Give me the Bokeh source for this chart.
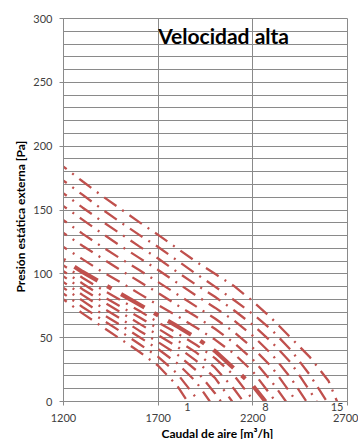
from bokeh.plotting import figure
from bokeh.models import (Label, FixedTicker, Range1d, LinearAxis, Title,
                          CustomJSTickFormatter)
from bokeh.embed import file_html
from bokeh.resources import INLINE

# ---------------- data ----------------
speeds = [1, 2, 3, 4, 5, 6, 7, 8, 9, 10, 11, 12, 13, 14, 15]
labelled_speeds = [1, 8, 15]
thick_speed = 8

flow_steps = [1200, 1300, 1400, 1500, 1600, 1700, 1800, 1900, 2000,
              2100, 2200, 2300, 2400, 2500, 2600]
zero_flow = [1855, 1914, 1973, 2032, 2091, 2150, 2208, 2267,
             2321, 2375, 2429, 2483, 2537, 2591, 2645]

p_speed1 = [80, 69, 59, 49, 39, 28, 12.5, 0]
p_speed2 = [84.5, 74, 64.5, 55, 45, 35, 22, 3, 0]
p_speed3 = [89, 79, 69, 60, 50.5, 41, 30, 15.5, 0]
p_speed4 = [93.5, 83.5, 74, 65, 55.5, 46.5, 37, 24.5, 6.5, 0]
p_speed5 = [98, 88, 79, 70, 61, 52, 43, 32, 18.5, 0]
p_speed6 = [102, 92.5, 83, 74.5, 66, 57, 48, 38.5, 26.5, 10, 0]
p_speed7 = [106.5, 97, 88, 79.5, 71, 62, 53.5, 44.5, 34, 20.5, 1.5, 0]
p_speed8 = [111, 101.5, 93, 84.5, 76, 67.5, 59, 50, 39.5, 26, 12.5, 0]
p_speed9 = [121, 111.5, 102, 93.5, 84.5, 75.5, 67, 58, 48.5, 37.5, 23.5, 4, 0]
p_speed10 = [132, 122, 112.5, 103, 94, 85, 75.5, 66.5, 57, 46, 33, 15.5, 0]
p_speed11 = [142, 131.5, 121.5, 112, 103, 93.5, 84, 74.5, 65, 54.5, 42, 27, 6.5, 0]
p_speed12 = [153, 142.5, 132, 122, 112.5, 103, 93, 83, 73.5, 63.5, 51.5, 37, 18.5, 0]
p_speed13 = [163, 152, 141.5, 131.5, 121.5, 112, 101.5, 91.5, 82, 71.5, 60, 46.5, 30.5, 8.5, 0]
p_speed14 = [173, 162, 151, 140.5, 130.5, 121, 110.5, 100, 90, 79.5, 68.5, 56, 40.5, 21, 0]
p_speed15 = [184, 172.5, 161.5, 151, 140.5, 130.5, 120, 109.5, 100, 90.5, 78.5, 65, 50, 35, 16, 0]

pressures = [p_speed1, p_speed2, p_speed3, p_speed4, p_speed5, p_speed6, p_speed7,
             p_speed8, p_speed9, p_speed10, p_speed11, p_speed12, p_speed13,
             p_speed14, p_speed15]

x_ticks = [1200, 1700, 2200, 2700]
y_ticks = [0, 50, 100, 150, 200, 250, 300]
y_grid_lines = list(range(0, 301, 10))

title_text = "Velocidad alta"
x_title = "Caudal de aire [m³/h]"
y_title = "Presión estática externa [Pa]"

# ---------------- styling ----------------
RED = "#C0504D"
GRID = "#8a8a8a"
TXT = "#404040"
FONT = "Lato"

p = figure(width=358, height=439,
           x_range=Range1d(1200, 2700), y_range=Range1d(0, 300),
           output_backend="svg", toolbar_location=None,
           min_border_left=63, min_border_right=11,
           min_border_top=18, min_border_bottom=37)
p.background_fill_color = "white"
p.border_fill_color = "white"
p.outline_line_color = GRID

p.xgrid.ticker = FixedTicker(ticks=x_ticks)
p.ygrid.ticker = FixedTicker(ticks=y_grid_lines)
p.xgrid.grid_line_color = GRID
p.ygrid.grid_line_color = GRID

# y axis
p.yaxis.ticker = FixedTicker(ticks=y_ticks)
p.yaxis.axis_line_color = GRID
p.yaxis.major_tick_line_color = GRID
p.yaxis.minor_tick_line_color = None
p.yaxis.major_tick_in = 0
p.yaxis.major_tick_out = 4
p.yaxis.major_label_standoff = 7
p.yaxis.major_label_text_font = FONT
p.yaxis.major_label_text_font_size = "11px"
p.yaxis.major_label_text_color = TXT

# first x axis: speed labels at the zero-pressure ends (+ tick marks at x_ticks)
lab_q = [qz for spd, qz in zip(speeds, zero_flow) if spd in labelled_speeds]
xa = p.xaxis[0]
xa.ticker = FixedTicker(ticks=lab_q, minor_ticks=x_ticks)
xa.formatter = CustomJSTickFormatter(
    args=dict(q=lab_q, s=labelled_speeds),
    code="const i = q.indexOf(tick); return i >= 0 ? String(s[i]) : '';")
xa.axis_line_color = GRID
xa.major_tick_line_color = None
xa.major_tick_in = 0
xa.major_tick_out = 0
xa.minor_tick_line_color = GRID
xa.minor_tick_in = 0
xa.minor_tick_out = 4
xa.major_label_standoff = -3
xa.major_label_text_font = FONT
xa.major_label_text_font_size = "11px"
xa.major_label_text_color = TXT

# second x axis: flow tick labels
xb = LinearAxis(ticker=FixedTicker(ticks=x_ticks))
xb.axis_line_color = None
xb.major_tick_line_color = None
xb.minor_tick_line_color = None
xb.major_tick_in = 0
xb.major_tick_out = 0
xb.major_label_standoff = 0
xb.major_label_text_font = FONT
xb.major_label_text_font_size = "11px"
xb.major_label_text_color = TXT
p.add_layout(xb, "below")

# axis titles
p.add_layout(Title(text=x_title, align="left", offset=98, standoff=-2,
                   text_font=FONT, text_font_style="bold",
                   text_font_size="12px", text_color="#000000"), "below")
p.add_layout(Title(text=y_title, align="left", offset=109, standoff=6,
                   text_font=FONT, text_font_style="bold",
                   text_font_size="12px", text_color="#000000"), "left")

# ---------------- curves ----------------
for spd, pr, qz in zip(speeds, pressures, zero_flow):
    flows = flow_steps[:len(pr) - 1] + [qz]
    if spd == thick_speed:
        p.line(flows, pr, line_color=RED, line_width=4.2,
               line_dash="27 11 5 11", line_dash_offset=41)
    else:
        p.line(flows, pr, line_color=RED, line_width=2.3,
               line_dash="15 7 2 7", line_dash_offset=11)

# title inside plot
p.add_layout(Label(x=1700, y=286.3, text=title_text, text_align="left",
                   text_baseline="middle", text_font=FONT,
                   text_font_style="bold", text_font_size="21px",
                   text_color="#000000"))

open("out.html", "w").write(file_html(p, INLINE))
